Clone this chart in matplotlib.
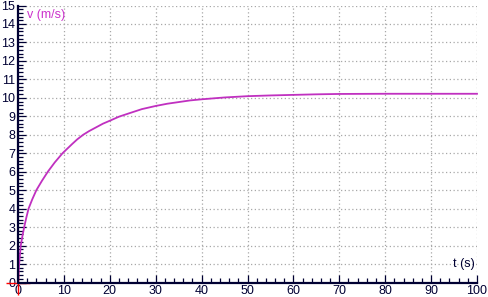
import matplotlib
matplotlib.use("Agg")
import matplotlib.pyplot as plt
from matplotlib.ticker import MultipleLocator

# data
t_s = [0, 0.25, 0.6, 0.95, 1.35, 1.8, 2.3, 3.1, 4.0, 5.2, 6.5, 8.0, 9.7, 11.8,
       12.9, 14.2, 15.5, 17.0, 18.5, 20, 22, 24.3, 27, 30, 32.5, 35, 37.5, 40,
       45, 50, 55, 60, 65, 70, 80, 90, 100]
v_ms = [0, 1, 2, 2.5, 3, 3.5, 4, 4.5, 5, 5.5, 6, 6.5, 7, 7.5,
        7.75, 8, 8.2, 8.4, 8.6, 8.76, 8.98, 9.17, 9.39, 9.56, 9.68, 9.77, 9.86, 9.92,
        10.02, 10.09, 10.13, 10.16, 10.19, 10.21, 10.22, 10.22, 10.22]
x_ticks = [0, 10, 20, 30, 40, 50, 60, 70, 80, 90, 100]
y_ticks = list(range(0, 16))
x_label = "t (s)"
y_label = "v (m/s)"

navy = "#000033"
curve = "#c030c0"

plt.rcParams['font.family'] = ['Liberation Sans', 'DejaVu Sans']
fig = plt.figure(figsize=(4.88, 2.97), dpi=100)
ax = fig.add_axes([18/488, (297-282.5)/297, (477-18)/488, 277/297])
ax.set_xlim(0, 100)
ax.set_ylim(0, 15)

ax.set_xticks(x_ticks)
ax.set_yticks(y_ticks)
ax.xaxis.set_minor_locator(MultipleLocator(2))
ax.yaxis.set_minor_locator(MultipleLocator(0.2))
ax.tick_params(which='both', direction='in', color=navy, labelcolor=navy,
               labelsize=9, width=0.9)
ax.tick_params(which='major', length=5.5)
ax.tick_params(which='minor', length=3.5)
ax.tick_params(axis='x', pad=1.5)
ax.tick_params(axis='y', pad=2)

ax.grid(True, which='major', color='#a8a8a8', linestyle=(0, (1, 2)), linewidth=0.9)
for s in ['top', 'right']:
    ax.spines[s].set_visible(False)
for s in ['left', 'bottom']:
    ax.spines[s].set_color(navy)
    ax.spines[s].set_linewidth(1.6)
    ax.spines[s].set_zorder(3)

ax.plot(t_s, v_ms, color=curve, linewidth=1.3, zorder=2.6, clip_on=False)
ax.plot(t_s[0], v_ms[0], marker='+', color='red', markersize=17, markeredgewidth=1.0,
        zorder=2.4, clip_on=False)

ax.text(0.02, 0.988, y_label, transform=ax.transAxes, color='#cc33cc',
        fontsize=9, ha='left', va='top')
ax.text(0.995, 0.045, x_label, transform=ax.transAxes, color=navy,
        fontsize=9, ha='right', va='bottom')

fig.savefig("out.png", dpi=100)
